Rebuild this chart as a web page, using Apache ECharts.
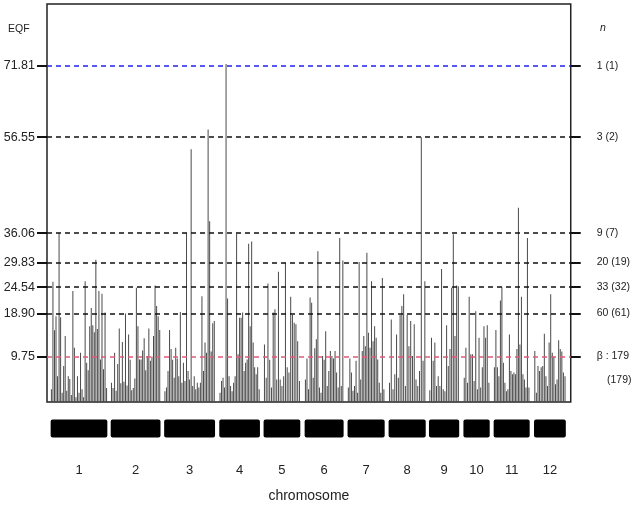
<!DOCTYPE html>
<html><head><meta charset="utf-8">
<script src="https://cdn.jsdelivr.net/npm/echarts@6/dist/echarts.min.js"></script>
<style>html,body{margin:0;padding:0;background:#fff}#c{width:633px;height:508px}</style>
</head><body><div id="c"></div>
<script>
// ---- data ----
const chromosomes = ['1','2','3','4','5','6','7','8','9','10','11','12'];
const chrStart = [3.7, 64.7, 119, 175, 220, 261.7, 305.3, 347, 388, 423, 453.7, 494.7];
const chrLen   = [57.6, 50.6, 51.7, 41.3, 37.3, 39.6, 37.7, 37.7, 30.7, 26.7, 36.6, 32.3];
const eqfThresholds = [71.81, 56.55, 36.06, 29.83, 24.54, 18.90, 9.75];
const nLabels = ['1 (1)', '3 (2)', '9 (7)', '20 (19)', '33 (32)', '60 (61)', 'β : 179'];
const betaCount = '(179)';
const yLabel = 'EQF';
const nTitle = 'n';
const xTitle = 'chromosome';

const eqfChr1 = [2.7,25.7,15.3,18.3,5.5,36.1,18.1,2,7.7,14.1,2.4,5.5,4.9,1.5,23.7,11.6,1,5.5,2,10.5,2.7,1,25.8,8.4,6.8,16.2,20.1,16.4,14.9,30.4,15.6,23.7,9.1,23.1,7,19.1,3];
const eqfChr2 = [4.1,3,10.5,2.4,8.1,15.7,4,12.8,4.3,18.9,3.5,14.4,9,2.5,3,5,24.4,16.2,9.1,9.1,11,13.6,6.8,9.8,15.7,8.8,9.7,14.1,24.9,20.5,18.3,15.4];
const eqfChr3 = [2.3,3.1,6.6,15.4,11.3,9.0,5.2,11.6,9.3,5.5,19.2,4.1,8.4,4.5,36.1,6.6,4.8,54.0,3.4,5.5,2.7,4.1,3.1,4.1,22.6,6.6,12.7,10.5,58.2,38.6,10.8,16.8,17.3];
const eqfChr4 = [2.0,4.5,5.2,3.1,72.2,22.1,5.5,3.4,2.3,4.1,5.5,36.0,10.2,18.0,18.0,19.1,6.6,8.4,9.1,33.8,16.2,34.3,12.7,7.4,5.9,7.4,2.7];
const eqfChr5 = [12.3,5.2,25.3,9.0,3.1,19.1,19.8,4.8,27.8,4.8,3.4,5.5,29.7,7.4,6.3,22.5,18.6,16.9,16.6,13.0,4.5];
const eqfChr6 = [4.8,9.3,2.7,22.3,21.2,5.2,11.5,13.4,32.2,3.1,2.0,9.8,9.0,15.1,3.4,6.6,10.9,9.8,9.3,10.9,6.3,3.1,35.0,3.4,30.2];
const eqfChr7 = [3.1,9.3,6.3,2.4,3.4,8.8,2.0,29.9,4.8,10.9,14.1,11.9,31.9,14.8,11.6,25.8,13.0,16.2,13.7,9.1,4.1,2.0,26.5,2.7];
const eqfChr8 = [4.1,17.6,2.7,5.9,14.4,5.2,18.6,20.5,23.0,3.4,18.6,11.9,17.3,9.8,16.6,4.8,3.4,6.6,56.55,8.8,25.8];
const eqfChr9 = [2.5,13.7,8.8,12.7,3.4,5.5,3.4,28.4,2.7,2.3,16.4,7.7,11.3,24.4,35.8,14.1,24.9,24.7];
const eqfChr10 = [5.2,11.6,4.1,22.5,10.2,10.2,4.5,19.4,2.7,13.7,3.1,7.4,16.2,13.7,16.4,4.1];
const eqfChr11 = [7.4,15.4,7.4,5.5,21.7,24.5,8.4,4.1,2.3,2.7,14.4,6.6,5.9,6.3,5.9,11.3,41.5,12.3,22.5,5.9,4.8,3.1,35.0,3.1];
const eqfChr12 = [10.9,2.0,7.7,6.6,7.4,7.7,14.6,5.5,3.4,12.7,23.0,10.5,9.7,3.8,4.8,13.2,11.3,10.8,6.3,5.5];
const eqfByChr = [eqfChr1,eqfChr2,eqfChr3,eqfChr4,eqfChr5,eqfChr6,eqfChr7,eqfChr8,eqfChr9,eqfChr10,eqfChr11,eqfChr12];

// ---- build ----
const points = [];
eqfByChr.forEach((arr, c) => {
  const step = chrLen[c] / arr.length;
  arr.forEach((v, i) => points.push([chrStart[c] + (i + 0.5) * step, v]));
});
const centers = chrStart.map((s, i) => s + chrLen[i] / 2);
const FONT = "'Liberation Sans', Arial, sans-serif";
const lineColors = eqfThresholds.map((t, i) => i === 0 ? '#2222ee' : (i === eqfThresholds.length - 1 ? '#e4587a' : '#111'));

const chart = echarts.init(document.getElementById('c'), null, {renderer: 'canvas'});
chart.setOption({
  animation: false,
  backgroundColor: '#fff',
  grid: {left: 47, right: 54, top: 4, bottom: 106, show: true, borderColor: '#222', borderWidth: 1.5, backgroundColor: 'transparent'},
  xAxis: {
    type: 'value', min: 0, max: 532,
    axisLine: {show: false}, axisTick: {show: false}, splitLine: {show: false},
    axisLabel: {customValues: centers, margin: 62, fontSize: 13, color: '#222', fontFamily: FONT,
      formatter: v => { const i = centers.findIndex(c => Math.abs(c - v) < 1e-6); return i >= 0 ? chromosomes[i] : ''; }},
    name: xTitle, nameLocation: 'middle', nameGap: 87,
    nameTextStyle: {fontSize: 14, color: '#222', fontFamily: FONT}
  },
  yAxis: [{
    type: 'value', min: 0, max: 85, position: 'left',
    axisLine: {show: false}, splitLine: {show: false},
    axisTick: {show: true, customValues: eqfThresholds, length: 10, lineStyle: {color: '#111', width: 2}},
    axisLabel: {customValues: eqfThresholds, margin: 12, fontSize: 12.5, color: '#222', fontFamily: FONT,
      formatter: v => v.toFixed(2)}
  }, {
    type: 'value', min: 0, max: 85, position: 'right',
    axisLine: {show: false}, splitLine: {show: false},
    axisTick: {show: true, customValues: eqfThresholds, length: 10, lineStyle: {color: '#111', width: 2}},
    axisLabel: {customValues: eqfThresholds, margin: 26, fontSize: 10.5, color: '#222', fontFamily: FONT,
      formatter: v => { const i = eqfThresholds.findIndex(t => Math.abs(t - v) < 1e-6); return i >= 0 ? nLabels[i] : ''; }}
  }],
  series: [{
    type: 'bar', data: points, barWidth: 1, itemStyle: {color: '#4a4a4a'}, z: 2,
    markLine: {
      silent: true, symbol: 'none', label: {show: false}, z: 3,
      data: eqfThresholds.map((t, i) => ({yAxis: t, lineStyle: {color: lineColors[i], type: [5, 4], width: 1.6}}))
    }
  }, {
    type: 'custom', clip: false, z: 1,
    data: chrStart.map((s, i) => [s, chrLen[i]]),
    encode: {x: 0},
    renderItem: (params, api) => {
      const a = api.coord([api.value(0), 0]);
      const b = api.coord([api.value(0) + api.value(1), 0]);
      return {type: 'rect', shape: {x: a[0], y: a[1] + 17.5, width: b[0] - a[0], height: 18, r: 2}, style: {fill: '#000'}};
    }
  }]
});

const pBeta = chart.convertToPixel({yAxisIndex: 1}, eqfThresholds[eqfThresholds.length - 1]);
const pTop = chart.convertToPixel({yAxisIndex: 0}, 85);
chart.setOption({
  graphic: [
    {type: 'text', left: 8, top: pTop + 20, style: {text: yLabel, fontSize: 10.5, fill: '#222', fontFamily: FONT}},
    {type: 'text', left: 600, top: pTop + 19, style: {text: nTitle, fontSize: 10.5, fontStyle: 'italic', fill: '#222', fontFamily: FONT}},
    {type: 'text', left: 607, top: pBeta + 18, style: {text: betaCount, fontSize: 10.5, fill: '#222', fontFamily: FONT}}
  ]
});
</script></body></html>
